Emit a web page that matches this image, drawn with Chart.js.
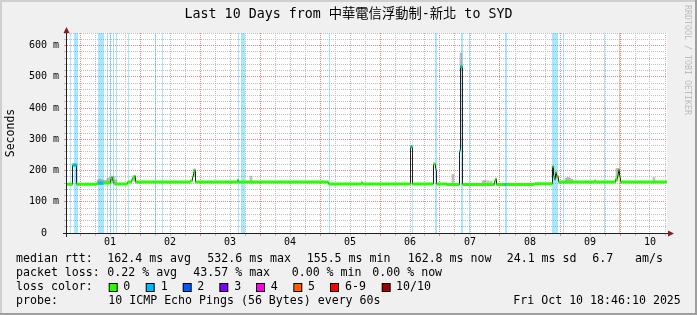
<!DOCTYPE html>
<html>
<head>
<meta charset="utf-8">
<title>Last 10 Days from 中華電信浮動制-新北 to SYD</title>
<script src="https://cdn.jsdelivr.net/npm/chart.js@4.4.1/dist/chart.umd.min.js"></script>
<style>
  html, body { margin: 0; padding: 0; background: #f0f0f0; }
  canvas { display: block; }
</style>
</head>
<body>
<canvas id="chart" width="697" height="315"></canvas>
<script>
// Time axis in hours, counted from Oct 01 00:00. The graph covers 240 h up to Oct 10 18:48
const startHour = -5.2;
const endHour = 234.8;
const dayLabels = ['01', '02', '03', '04', '05', '06', '07', '08', '09', '10'];

// y axis (ms)
const yMax = 640;
const yTickValues = [0, 100, 200, 300, 400, 500, 600];
const yTickLabels = ['0  ', '100 m', '200 m', '300 m', '400 m', '500 m', '600 m'];

// Median rtt in ms, each value holds from its hour until the next one
const medianHours = [-5.2, -3.0, -1.4, 6.6, 7.0, 9.4, 12.2, 12.6, 13.0, 13.4, 13.8, 19.0, 20.6, 21.0, 21.8, 22.2,
  44.2, 45.0, 45.4, 45.8, 46.2, 63.0, 63.4, 99.4, 112.6, 113.0, 132.2, 133.0, 141.4, 142.2, 142.6, 146.6,
  151.8, 152.2, 153.0, 165.8, 166.2, 166.6, 169.8, 170.6, 181.8, 189.0, 189.4, 189.8, 190.2, 190.6, 191.4,
  205.8, 206.2, 214.2, 215.0, 215.4, 215.8, 216.2];
const medianMs = [156, 218, 156, 158, 159, 160, 172, 178, 168, 160, 157, 163, 170, 176, 182, 163,
  167, 180, 194, 201, 163, 169, 163, 157, 161, 157, 276, 157, 221, 203, 157, 155,
  263, 533, 155, 166, 173, 155, 155, 155, 158, 212, 180, 172, 194, 180, 163,
  167, 163, 172, 185, 202, 180, 163];
// pings lost (out of 10) for each median step
const medianLoss = [0, 1, 0, 0, 1, 0, 0, 0, 0, 0, 0, 0, 0, 0, 0, 0,
  0, 0, 0, 0, 0, 1, 0, 0, 0, 0, 1, 0, 0, 1, 0, 0,
  1, 1, 0, 0, 0, 0, 1, 0, 0, 0, 1, 2, 0, 5, 0,
  0, 0, 0, 0, 0, 5, 0];

// Smoke: spread of the single pings (ms)
const smokeHours = [7.2, 8.0, 8.8, 9.6, 10.4, 11.2, 12.0, 12.8, 13.6, 14.4, 21.6, 45.6, 68.4, 149.2, 152.4,
  161.2, 162.0, 163.2, 164.4, 189.2, 194.4, 195.2, 196.0, 196.8, 214.8, 215.6, 229.6];
const smokeLow = [160, 160, 160, 160, 160, 160, 162, 162, 160, 158, 165, 180, 163, 157, 520,
  157, 157, 157, 157, 180, 160, 160, 160, 160, 165, 180, 163];
const smokeHigh = [170, 172, 170, 168, 168, 175, 178, 182, 180, 170, 184, 205, 182, 188, 575,
  167, 168, 167, 166, 214, 176, 178, 176, 172, 207, 206, 178];

// Periods with packet loss, shown as full height columns
const lossStart = [-4.0, -2.4, 7.2, 10.8, 12.0, 13.2, 14.4, 19.2, 30.0, 32.8, 63.2, 64.4, 99.6, 132.8, 142.0,
  152.4, 155.6, 170.0, 188.8, 193.2, 209.6, 215.6];
const lossEnd = [-3.6, -0.8, 9.6, 11.2, 12.4, 13.6, 14.8, 19.6, 30.4, 33.2, 63.6, 66.0, 100.0, 133.2, 142.8,
  153.2, 156.0, 170.8, 191.2, 193.6, 210.0, 216.0];
const lossLevel = [1, 1, 1, 1, 1, 1, 1, 1, 1, 1, 1, 1, 1, 1, 1,
  1, 1, 1, 1, 1, 1, 5];

// loss colour legend
const lossPalette = ['#26ff00', '#00b8ff', '#0059ff', '#7e00ff', '#ff00ea', '#ff5b00', '#ff0000', '#a10000'];
const lossNames = ['0', '1', '2', '3', '4', '5', '6-9', '10/10'];

const titleText = 'Last 10 Days from 中華電信浮動制-新北 to SYD';
const legendRows = [
  [[16, 'median rtt:'], [107.3, '162.4 ms avg'], [207.3, '532.6 ms max'], [306.7, '155.5 ms min'],
   [407.7, '162.8 ms now'], [506.7, '24.1 ms sd'], [592.3, '6.7'], [635, 'am/s']],
  [[16, 'packet loss:'], [107.3, '0.22 % avg'], [193.3, '43.57 % max'], [291.7, '0.00 % min'], [372.3, '0.00 % now']],
  [[16, 'loss color:']],
  [[16, 'probe:'], [108.3, '10 ICMP Echo Pings (56 Bytes) every 60s'], [513.3, 'Fri Oct 10 18:46:10 2025']]
];
const legendRowY = [259.3, 273.3, 287, 301];
const swatchX = [108.7, 145.7, 182.7, 219.3, 256, 293.3, 330, 381.7];
const swatchLabelX = [123.3, 160.7, 197.3, 234.3, 270.7, 308, 345, 396];

// half height of the coloured median band (~1.5 px)
const bandHalf = 4.8;

const MONO = "'DejaVu Sans Mono', monospace";
Chart.defaults.font.family = MONO;
Chart.defaults.font.size = 10;
Chart.defaults.color = '#000';

function lossIndex(l) {
    return l <= 5 ? l : (l < 10 ? 6 : 7);
}

function withAlpha(hex, a) {
    const n = parseInt(hex.slice(1), 16);
    return 'rgba(' + (n >> 16) + ',' + ((n >> 8) & 255) + ',' + (n & 255) + ',' + a + ')';
}

function medianPoints(shift) {
    const pts = medianHours.map((h, i) => ({x: h, y: medianMs[i] + shift}));
    pts.push({x: endHour, y: medianMs[medianMs.length - 1] + shift});
    return pts;
}

function lossPieces(level, shift) {
    const pts = [];
    medianHours.forEach((h, i) => {
        if (medianLoss[i] !== level) return;
        const next = i + 1 < medianHours.length ? medianHours[i + 1] : endHour;
        pts.push({x: h, y: medianMs[i] + shift}, {x: next, y: medianMs[i] + shift}, {x: next, y: null});
    });
    return pts;
}

const noLine = {borderWidth: 0, borderColor: 'transparent', pointRadius: 0, spanGaps: false};
const datasets = [];

// loss columns in the background
[...new Set(lossLevel)].forEach(lvl => {
    const pts = [];
    lossStart.forEach((s, i) => {
        if (lossLevel[i] !== lvl) return;
        pts.push({x: s, y: yMax}, {x: lossEnd[i], y: yMax}, {x: lossEnd[i], y: null});
    });
    datasets.push(Object.assign({type: 'line', data: pts, fill: 'origin',
        backgroundColor: withAlpha(lossPalette[lossIndex(lvl)], 0.34), order: 10}, noLine));
});

// smoke
datasets.push({
    type: 'bar',
    data: smokeHours.map((h, i) => ({x: h, y: [smokeLow[i], smokeHigh[i]]})),
    backgroundColor: 'rgba(128,128,128,0.5)',
    barThickness: 2,
    grouped: false,
    order: 8
});

// thin dark median line
datasets.push({type: 'line', data: medianPoints(0), stepped: true, borderColor: '#202020',
    borderWidth: 1, pointRadius: 0, fill: false, order: 6});

// green median band (upper edge fills down to the lower edge)
datasets.push(Object.assign({type: 'line', data: medianPoints(bandHalf), stepped: true, fill: '+1',
    backgroundColor: lossPalette[0], order: 4}, noLine));
datasets.push(Object.assign({type: 'line', data: medianPoints(-bandHalf), stepped: true, fill: false, order: 4}, noLine));

// steps with loss get their loss colour
[...new Set(medianLoss)].filter(l => l > 0).forEach(lvl => {
    datasets.push(Object.assign({type: 'line', data: lossPieces(lvl, bandHalf), stepped: true, fill: '+1',
        backgroundColor: lossPalette[lossIndex(lvl)], order: 2}, noLine));
    datasets.push(Object.assign({type: 'line', data: lossPieces(lvl, -bandHalf), stepped: true, fill: false, order: 2}, noLine));
});

const majorGrid = '#dd8a8a';
const minorGrid = '#c0c0c0';

// background, frame, axes, arrows, title and legend
const rrdFrame = {
    id: 'rrdFrame',
    beforeDraw(chart) {
        const ctx = chart.ctx;
        const a = chart.chartArea;
        ctx.save();
        ctx.fillStyle = '#f0f0f0';
        ctx.fillRect(0, 0, chart.width, chart.height);
        ctx.fillStyle = '#cfcfcf';
        ctx.fillRect(0, 0, chart.width, 2);
        ctx.fillRect(0, 0, 2, chart.height);
        ctx.fillStyle = '#9e9e9e';
        ctx.fillRect(0, chart.height - 2, chart.width, 2);
        ctx.fillRect(chart.width - 2, 0, 2, chart.height);
        ctx.fillStyle = '#ffffff';
        ctx.fillRect(a.left, a.top, a.right - a.left, a.bottom - a.top);
        ctx.restore();
    },
    afterDraw(chart) {
        const ctx = chart.ctx;
        const a = chart.chartArea;
        ctx.save();
        // axes
        ctx.strokeStyle = '#202020';
        ctx.lineWidth = 1;
        ctx.beginPath();
        ctx.moveTo(a.left - 4, a.bottom + 0.5);
        ctx.lineTo(a.right + 2, a.bottom + 0.5);
        ctx.moveTo(a.left - 0.5, a.bottom + 4);
        ctx.lineTo(a.left - 0.5, a.top - 2);
        ctx.stroke();
        // arrows
        ctx.fillStyle = '#802020';
        ctx.beginPath();
        ctx.moveTo(a.left - 3.5, a.top);
        ctx.lineTo(a.left + 2.5, a.top);
        ctx.lineTo(a.left - 0.5, a.top - 6);
        ctx.closePath();
        ctx.fill();
        ctx.beginPath();
        ctx.moveTo(a.right + 1, a.bottom - 2.5);
        ctx.lineTo(a.right + 1, a.bottom + 3.5);
        ctx.lineTo(a.right + 7, a.bottom + 0.5);
        ctx.closePath();
        ctx.fill();

        // title
        ctx.fillStyle = '#000';
        ctx.textBaseline = 'middle';
        ctx.textAlign = 'center';
        ctx.font = "13.3px 'DejaVu Sans Mono', 'Noto Sans CJK TC', monospace";
        ctx.fillText(titleText, 348.5, 14.5);

        // legend
        ctx.textAlign = 'left';
        ctx.font = '11.6px ' + MONO;
        legendRows.forEach((row, r) => {
            row.forEach(([x, text]) => ctx.fillText(text, x, legendRowY[r]));
        });
        lossPalette.forEach((c, i) => {
            ctx.fillStyle = '#000';
            ctx.fillRect(swatchX[i], 283, 9, 9);
            ctx.fillStyle = c;
            ctx.fillRect(swatchX[i] + 1, 284, 7, 7);
            ctx.fillStyle = '#000';
            ctx.fillText(lossNames[i], swatchLabelX[i], legendRowY[2]);
        });

        // side watermark
        ctx.fillStyle = '#bcbcbc';
        ctx.font = '8.3px ' + MONO;
        ctx.translate(687.5, 5);
        ctx.rotate(Math.PI / 2);
        ctx.fillText('RRDTOOL / TOBI OETIKER', 0, 0);
        ctx.restore();
    }
};

new Chart(document.getElementById('chart'), {
    type: 'line',
    data: {datasets: datasets},
    plugins: [rrdFrame],
    options: {
        responsive: false,
        animation: false,
        devicePixelRatio: 1,
        events: [],
        layout: {padding: {top: 33, right: 30, bottom: 62, left: 0}},
        plugins: {legend: {display: false}, tooltip: {enabled: false}, title: {display: false}},
        scales: {
            x: {
                type: 'linear',
                min: startHour,
                max: endHour,
                offset: false,
                afterBuildTicks(scale) {
                    const ticks = [];
                    for (let h = 0; h <= endHour; h += 6) ticks.push({value: h});
                    scale.ticks = ticks;
                },
                afterFit(scale) { scale.height = 20; },
                ticks: {
                    autoSkip: false,
                    maxTicksLimit: 1000,
                    maxRotation: 0,
                    padding: 0,
                    font: {size: 10},
                    callback: v => (v % 24 === 12 ? dayLabels[(v - 12) / 24] : '')
                },
                grid: {
                    offset: false,
                    drawTicks: true,
                    tickLength: 3,
                    color: c => (c.tick && c.tick.value % 24 === 0 ? majorGrid : minorGrid),
                    tickColor: c => (c.tick && c.tick.value % 24 === 0 ? majorGrid : minorGrid)
                },
                border: {display: false, dash: [1, 1]}
            },
            y: {
                type: 'linear',
                min: 0,
                max: yMax,
                afterFit(scale) { scale.width = 67; },
                ticks: {
                    stepSize: 20,
                    autoSkip: false,
                    maxTicksLimit: 1000,
                    padding: 5,
                    font: {size: 10},
                    callback: v => {
                        const i = yTickValues.indexOf(v);
                        return i >= 0 ? yTickLabels[i] : '';
                    }
                },
                title: {
                    display: true,
                    text: 'Seconds',
                    font: {size: 11.5},
                    padding: {top: 4, bottom: 0}
                },
                grid: {
                    drawTicks: true,
                    tickLength: 3,
                    color: c => (c.tick && c.tick.value % 100 === 0 ? majorGrid : minorGrid),
                    tickColor: c => (c.tick && c.tick.value % 100 === 0 ? majorGrid : minorGrid)
                },
                border: {display: false, dash: [1, 1]}
            }
        }
    }
});
</script>
</body>
</html>
